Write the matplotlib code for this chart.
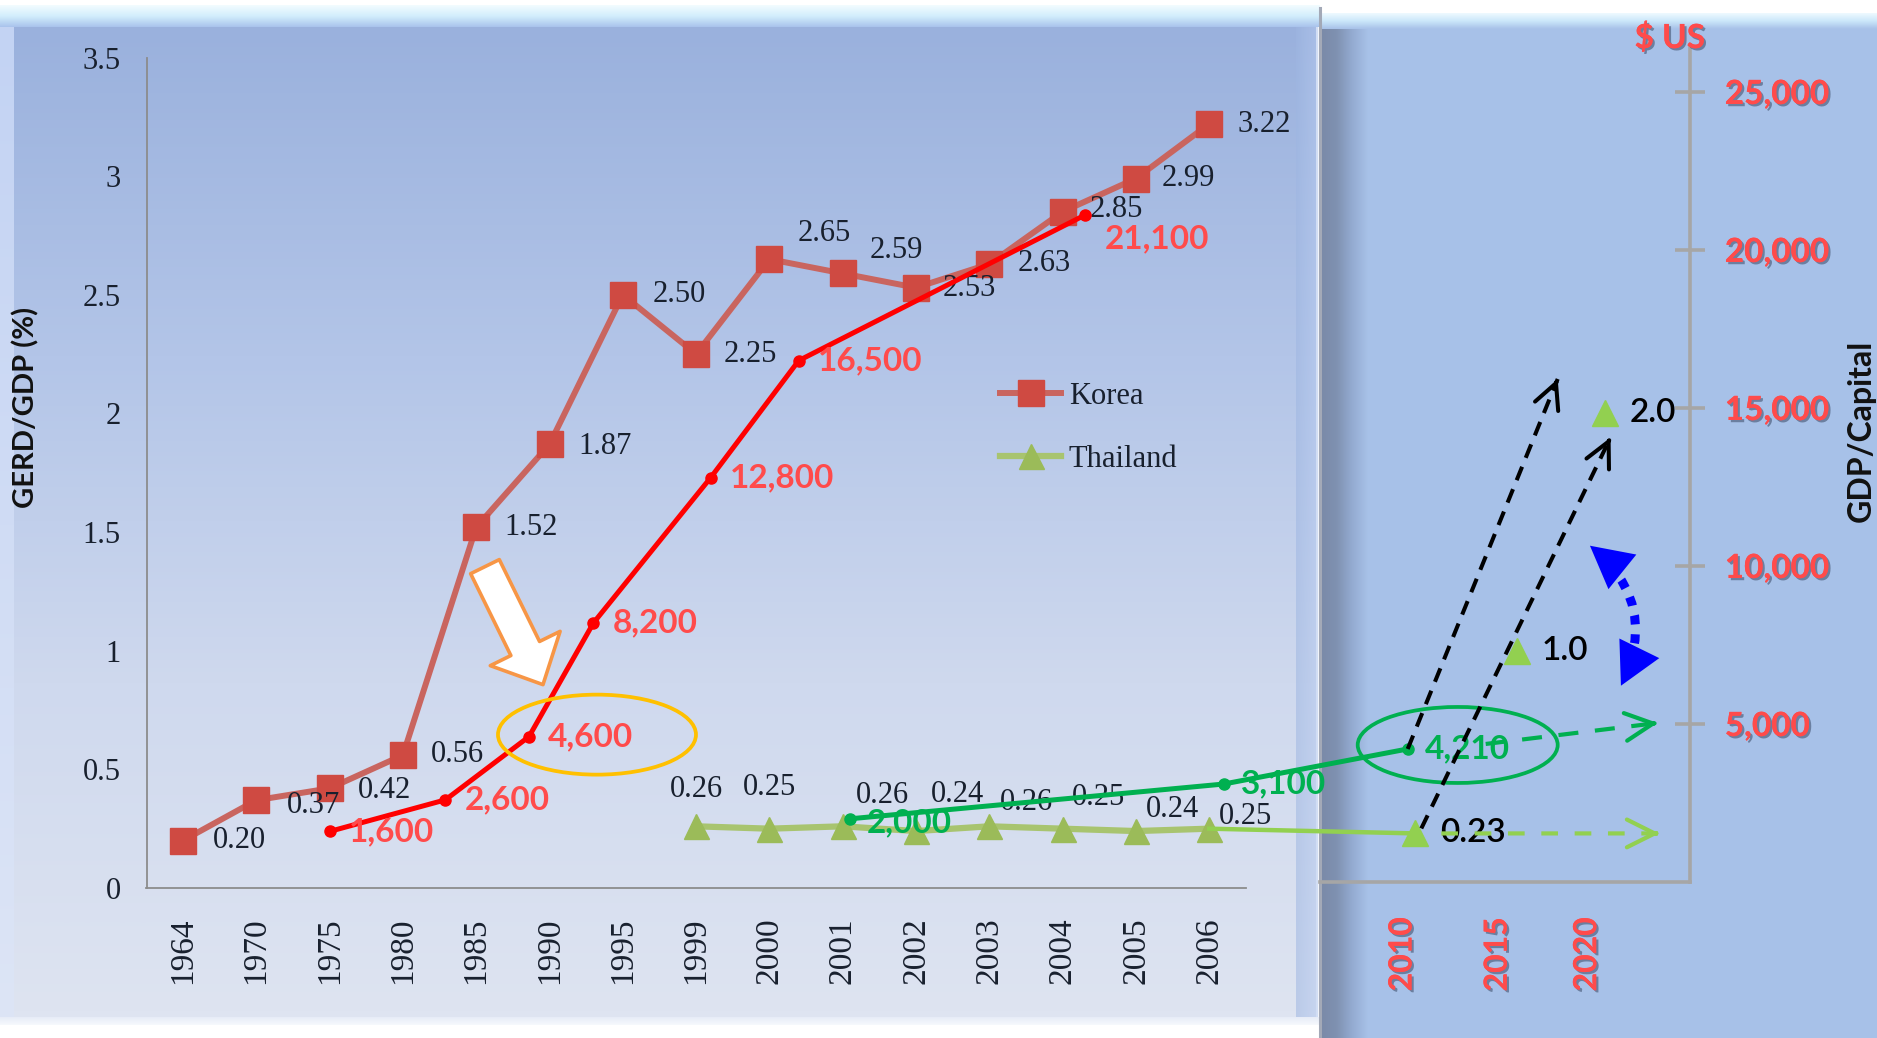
import numpy as np
import matplotlib
matplotlib.use("Agg")
import matplotlib.pyplot as plt
from matplotlib import patheffects as pe
from matplotlib.patches import Ellipse
from matplotlib.transforms import ScaledTranslation
from matplotlib.colors import LinearSegmentedColormap

# ------------------------------------------------------------------ data
years = ["1964", "1970", "1975", "1980", "1985", "1990", "1995", "1999",
         "2000", "2001", "2002", "2003", "2004", "2005", "2006"]
korea_gerd = [0.20, 0.37, 0.42, 0.56, 1.52, 1.87, 2.50, 2.25,
              2.65, 2.59, 2.53, 2.63, 2.85, 2.99, 3.22]
thai_years = ["1999", "2000", "2001", "2002", "2003", "2004", "2005", "2006"]
thai_gerd = [0.26, 0.25, 0.26, 0.24, 0.26, 0.25, 0.24, 0.25]

proj_years = ["2010", "2015", "2020"]
thai_target_year = [2010.7, 2016.1, 2021.0]
thai_target_gerd = [0.23, 1.0, 2.0]
thai_target_text = ["0.23", "1.0", "2.0"]

korea_gdp_year = [1975, 1982.9, 1988.6, 1993.0, 1999.2, 2000.4, 2004.3]
korea_gdp = [1600, 2600, 4600, 8200, 12800, 16500, 21100]
thai_gdp_year = [2001.1, 2006.3, 2010.3]
thai_gdp = [2000, 3100, 4210]

gerd_ticks = [0, 0.5, 1, 1.5, 2, 2.5, 3, 3.5]
gdp_ticks = [5000, 10000, 15000, 20000, 25000]

# ------------------------------------------------------------------ layout (pixels)
W, H, DPI = 1877, 1038, 100
AX_L, AX_R, AX_TOP, AX_BOT = 147, 1690, 45, 888
CAT0_PX, CAT_STEP = 183, 73.3
PROJ_SLOTS = [16.63, 17.93, 19.15]
GERD_PX = (888 - 57.5) / 3.5
GDP_ZERO_PX, GDP_PX = 882, 0.0316
PANEL_SPLIT = 1320

SERIF = "Liberation Serif"
SANS = "Lato"
INK = "#18202E"
RED_TXT = "#FF4B4B"

KOREA_LABEL_OFF = [(56, 0), (57, -5), (55, -2), (55, 1), (55, 0), (56, -2), (56, 0),
                   (54, 0), (55, 26), (54, 23), (53, -1), (55, 0), (54, 2), (52, 0), (55, -1)]
THAI_LABEL_OFF = [(0, 37), (0, 41), (40, 31), (41, 37), (37, 24), (36, 31), (37, 22), (36, 12)]
KOREA_GDP_LABEL_OFF = [(19, 0), (19, 0), (19, 0), (19, 0), (19, 0), (19, 0), (20, -24)]
THAI_GDP_LABEL_OFF = [(17, -4), (17, 0), (17, 0)]

knot_years = [float(y) for y in years] + [float(y) for y in proj_years] + [2025.0]
knot_pos = list(range(len(years))) + PROJ_SLOTS + [PROJ_SLOTS[-1] + 1.22]


def pos(y):
    return np.interp(y, knot_years, knot_pos)


fig = plt.figure(figsize=(W / DPI, H / DPI), dpi=DPI, facecolor="white")

# ------------------------------------------------------------------ panels
bg = fig.add_axes([0, 0, 1, 1], zorder=-10)


def grad(x0, x1, y0, y1, colors, vertical=True, alpha=1.0):
    cmap = LinearSegmentedColormap.from_list("g", colors)
    arr = np.linspace(0, 1, 256)
    arr = arr[:, None] if vertical else arr[None, :]
    bg.imshow(arr, cmap=cmap, extent=(x0, x1, y1, y0), aspect="auto",
              interpolation="bilinear", alpha=alpha)


# left chart face with bevelled frame
grad(0, PANEL_SPLIT, 5, 1024, ["#F4F7FC", "#F4F7FC"])
grad(14, PANEL_SPLIT - 4, 26, 1017, ["#9AB1DD", "#B3C5E8", "#CFD9EE", "#DEE4F1"])
grad(0, 14, 26, 1024, ["#C3D3F3", "#DDE5F6"])
grad(0, PANEL_SPLIT, 5, 27, ["#F3FCFF", "#D2EEFC", "#A9C3EC"])
grad(PANEL_SPLIT - 24, PANEL_SPLIT - 2, 27, 1017, ["#9EB6E2", "#B7CBF0"], vertical=False, alpha=0.55)
grad(0, PANEL_SPLIT, 1017, 1025, ["#E6ECF7", "#F7F9FD"])
# right overlay panel
grad(PANEL_SPLIT, W, 13, H, ["#A7C1E8", "#A7C1E8"])
grad(PANEL_SPLIT, W, 13, 29, ["#EFFAFF", "#CBE7FA", "#A7C1E8"])
grad(PANEL_SPLIT + 1, PANEL_SPLIT + 48, 29, H, ["#7A8AA8", "#7F91B1", "#94ABD1", "#A7C1E8"],
     vertical=False)
bg.plot([PANEL_SPLIT, PANEL_SPLIT], [8, H], color="#A3A9B7", lw=2.2)
bg.set_xlim(0, W)
bg.set_ylim(H, 0)
bg.axis("off")

# ------------------------------------------------------------------ axes
ax = fig.add_axes([AX_L / W, 1 - AX_BOT / H, (AX_R - AX_L) / W, (AX_BOT - AX_TOP) / H])
ax.patch.set_visible(False)
ax.set_xlim((AX_L - CAT0_PX) / CAT_STEP, (AX_R - CAT0_PX) / CAT_STEP)
ax.set_ylim(0, (AX_BOT - AX_TOP) / GERD_PX)
ax2 = ax.twinx()
ax2.set_ylim((GDP_ZERO_PX - AX_BOT) / GDP_PX, (GDP_ZERO_PX - AX_TOP) / GDP_PX)

for s in ("top", "right"):
    ax.spines[s].set_visible(False)
ax.spines["left"].set_bounds(0, 3.5)
ax.spines["bottom"].set_bounds(-0.5, len(years) - 0.5)
for s in ("left", "bottom"):
    ax.spines[s].set_color("#8C8C8C")
    ax.spines[s].set_linewidth(1.3)

for s in ("top", "left"):
    ax2.spines[s].set_visible(False)
ax2.spines["right"].set_bounds(0, ax2.get_ylim()[1])
ax2.spines["bottom"].set_position(("data", 0))
ax2.spines["bottom"].set_bounds((PANEL_SPLIT - CAT0_PX) / CAT_STEP, ax.get_xlim()[1])
for s in ("right", "bottom"):
    ax2.spines[s].set_color("#A6A6A6")
    ax2.spines[s].set_linewidth(2.6)

# GERD axis
ax.set_yticks(gerd_ticks)
ax.set_yticklabels([f"{v:g}" for v in gerd_ticks], fontfamily=SERIF, fontsize=22, color=INK)
ax.tick_params(axis="y", length=0, pad=19)
ax.set_ylabel("GERD/GDP (%)", fontfamily=SANS, fontweight="bold", fontsize=21, color="#111111")
ax.yaxis.label.set_va("center")
ax.yaxis.set_label_coords((26 - AX_L) / (AX_R - AX_L), (AX_BOT - 407) / (AX_BOT - AX_TOP))

shadow = [pe.withSimplePatchShadow(offset=(1.6, -1.6), shadow_rgbFace="#3A4A66", alpha=0.55),
          pe.Normal()]

ax.set_xticks(list(range(len(years))) + PROJ_SLOTS)
ax.set_xticklabels(years + proj_years, rotation=90)
ax.tick_params(axis="x", length=0, pad=21)
for i, lbl in enumerate(ax.get_xticklabels()):
    if i < len(years):
        lbl.set_fontfamily(SERIF)
        lbl.set_fontsize(24)
        lbl.set_color(INK)
    else:
        lbl.set_fontfamily(SANS)
        lbl.set_fontweight("bold")
        lbl.set_fontsize(23)
        lbl.set_color(RED_TXT)
        lbl.set_path_effects(shadow)

# GDP per capita axis
ax2.set_yticks(gdp_ticks)
ax2.set_yticklabels([f"{v:,}" for v in gdp_ticks])
ax2.tick_params(axis="y", direction="inout", length=22, width=2.6, color="#A6A6A6",
                pad=14, labelsize=24, labelcolor=RED_TXT)
for lbl in ax2.get_yticklabels():
    lbl.set_fontfamily(SANS)
    lbl.set_fontweight("bold")
    lbl.set_path_effects(shadow)
ax2.set_ylabel("GDP/Capital", fontfamily=SANS, fontweight="bold", fontsize=23,
               color="#111111", rotation=90)
ax2.yaxis.label.set_va("center")
ax2.yaxis.set_label_coords((1861 - AX_L) / (AX_R - AX_L), (AX_BOT - 431) / (AX_BOT - AX_TOP))
ax2.annotate("$ US", xy=(1, 1), xycoords="axes fraction", xytext=(-14.5, 5),
             textcoords="offset points", ha="center", va="center", fontfamily=SANS,
             fontweight="bold", fontsize=24, color=RED_TXT, path_effects=shadow)

# ------------------------------------------------------------------ GERD series
kx = np.arange(len(years))
korea_line, = ax.plot(kx, korea_gerd, color="#C9655F", lw=4.3, marker="s", ms=19,
                      mfc="#CF4A42", mec="#CF4A42", zorder=3, solid_joinstyle="miter")
tx = np.array([years.index(y) for y in thai_years])
thai_line, = ax.plot(tx, thai_gerd, color="#A8C46F", lw=4.5, marker="^", ms=18,
                     mfc="#9BBB59", mec="#9BBB59", zorder=3)

for i, v in enumerate(korea_gerd):
    dx, dy = KOREA_LABEL_OFF[i]
    ax.annotate(f"{v:.2f}", (kx[i], v), xytext=(dx * 0.72, dy * 0.72), textcoords="offset points",
                ha="center", va="center", fontfamily=SERIF, fontsize=22, color=INK, zorder=4)
for i, v in enumerate(thai_gerd):
    dx, dy = THAI_LABEL_OFF[i]
    ax.annotate(f"{v:.2f}", (tx[i], v), xytext=(dx * 0.72, dy * 0.72), textcoords="offset points",
                ha="center", va="center", fontfamily=SERIF, fontsize=22, color=INK, zorder=4)

# Thailand GERD targets
gx = pos(np.array(thai_target_year))
ax.plot([tx[-1], gx[0]], [thai_gerd[-1], thai_target_gerd[0]], color="#92D050", lw=3.2, zorder=3)
ax.plot(gx, thai_target_gerd, ls="none", marker="^", ms=19, mfc="#92D050", mec="#92D050", zorder=4)

leg = ax.legend(handles=[korea_line, thai_line], labels=["Korea", "Thailand"], loc="upper left",
                bbox_to_anchor=((1000 - AX_L) / (AX_R - AX_L), (AX_BOT - 382) / (AX_BOT - AX_TOP)),
                frameon=False, prop=dict(family=SERIF, size=22), handlelength=2.0,
                handletextpad=0.25, labelspacing=1.1, borderpad=0, borderaxespad=0)
for t in leg.get_texts():
    t.set_color(INK)

# ------------------------------------------------------------------ GDP per capita series
kgx = pos(np.array(korea_gdp_year))
ax2.plot(kgx, korea_gdp, color="#FF0000", lw=3.6, marker="o", ms=8, zorder=5)
tgx = pos(np.array(thai_gdp_year))
ax2.plot(tgx, thai_gdp, color="#00B050", lw=3.6, marker="o", ms=8, zorder=5)
for (x, v), (dx, dy) in zip(zip(kgx, korea_gdp), KOREA_GDP_LABEL_OFF):
    ax2.annotate(f"{v:,}", (x, v), xytext=(dx * 0.72, dy * 0.72), textcoords="offset points",
                 ha="left", va="center", fontfamily=SANS, fontweight="bold", fontsize=24,
                 color=RED_TXT, zorder=6)
for (x, v), (dx, dy) in zip(zip(tgx, thai_gdp), THAI_GDP_LABEL_OFF):
    ax2.annotate(f"{v:,}", (x, v), xytext=(dx * 0.72, dy * 0.72), textcoords="offset points",
                 ha="left", va="center", fontfamily=SANS, fontweight="bold", fontsize=24,
                 color="#00B050", zorder=6)

for x, v, t in zip(gx, thai_target_gerd, thai_target_text):
    ax.annotate(t, (x, v), xytext=(18, 0), textcoords="offset points", ha="left", va="center",
                fontfamily=SANS, fontsize=24, fontweight="semibold", color="black", zorder=8)


# ------------------------------------------------------------------ call-outs
def shifted(base, dx, dy):
    return base + ScaledTranslation(dx / DPI, dy / DPI, fig.dpi_scale_trans)


def ring(on_ax, pt, dx, dy, w, h, color):
    tr = (fig.dpi_scale_trans + ScaledTranslation(pt[0], pt[1], on_ax.transData)
          + ScaledTranslation(dx / DPI, dy / DPI, fig.dpi_scale_trans))
    on_ax.add_artist(Ellipse((0, 0), w / DPI, h / DPI, transform=tr, fill=False, ec=color,
                             lw=2.7, clip_on=False, zorder=7))


def dashed_arrow(ax_a, pa, off_a, ax_b, pb, off_b, color, lw, dashes, head=0.9):
    ta = shifted(ax_a.transData, *off_a)
    tb = shifted(ax_b.transData, *off_b)
    ax2.annotate("", xy=pb, xycoords=tb, xytext=pa, textcoords=ta,
                 arrowprops=dict(arrowstyle="-", color=color, lw=lw, linestyle=(0, dashes),
                                 shrinkA=0, shrinkB=0, capstyle="butt"), zorder=7)
    a = ta.transform(pa)
    b = tb.transform(pb)
    u = (b - a) / np.hypot(*(b - a))
    start = b - 4 * u
    ax2.annotate("", xy=pb, xycoords=tb, xytext=tuple(start), textcoords="figure pixels",
                 arrowprops=dict(arrowstyle=f"->,head_length={head},head_width={head * 0.5}",
                                 mutation_scale=20, color=color, lw=lw, shrinkA=0, shrinkB=0),
                 zorder=7)


p4600 = (kgx[2], korea_gdp[2])
p4210 = (tgx[2], thai_gdp[2])
p023 = (gx[0], thai_target_gerd[0])
p10 = (gx[1], thai_target_gerd[1])
p20 = (gx[2], thai_target_gerd[2])

ring(ax2, p4600, 68, 2, 198, 80, "#FFC000")
ring(ax2, p4210, 50, 4, 200, 76, "#00B050")

ax2.annotate("", xy=p4600, xycoords=shifted(ax2.transData, 14, 52),
             xytext=p4600, textcoords=shifted(ax2.transData, -44, 170),
             arrowprops=dict(arrowstyle="simple,head_length=2.9,head_width=5.6,tail_width=2.3",
                             mutation_scale=10, fc="white", ec="#F79646", lw=2.6,
                             shrinkA=0, shrinkB=0), zorder=7)

dashed_arrow(ax2, p4210, (0, 0), ax2, p4210, (150, 370), "black", 2.9, (3.6, 2.4))
dashed_arrow(ax, p023, (6, 5), ax, p20, (6, -24), "black", 2.9, (3.6, 2.4))
dashed_arrow(ax2, p4210, (78, 5), ax2, p4210, (250, 26), "#00B050", 3.0, (4.8, 4.0), head=1.0)
dashed_arrow(ax, p023, (26, 0), ax, p023, (244, 0), "#92D050", 3.0, (4.0, 4.0), head=1.0)

# dotted double-headed arc between the GERD targets
top_t = shifted(ax.transData, 73, 105)
bot_t = shifted(ax.transData, 104, -35)
ax.annotate("", xy=p10, xycoords=bot_t, xytext=p10, textcoords=top_t,
            arrowprops=dict(arrowstyle="-", connectionstyle="arc3,rad=-0.4", color="#0000FF",
                            lw=6.5, linestyle=(0, (1.0, 1.1)), shrinkA=20, shrinkB=20,
                            capstyle="butt"), zorder=7)
ax.annotate("", xy=p10, xycoords=bot_t, xytext=p10, textcoords=top_t,
            arrowprops=dict(arrowstyle="<|-|>,head_length=1.5,head_width=0.8",
                            connectionstyle="arc3,rad=-0.4", mutation_scale=20,
                            fc="#0000FF", ec="none", lw=0, shrinkA=0, shrinkB=0), zorder=7)

fig.savefig("out.png", dpi=DPI, facecolor="white")
